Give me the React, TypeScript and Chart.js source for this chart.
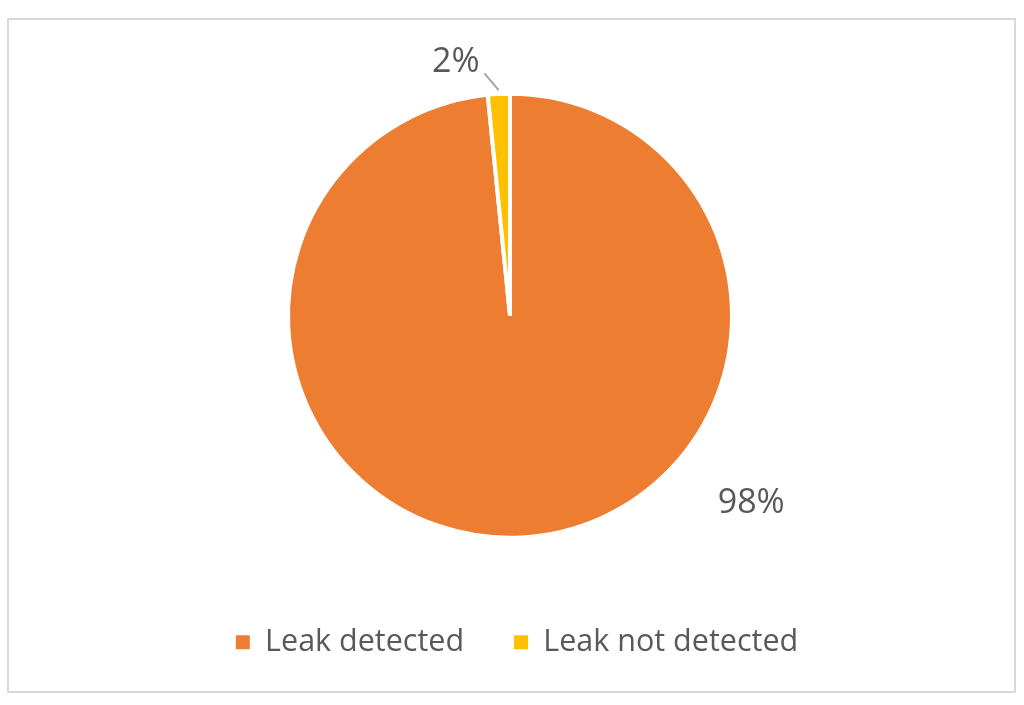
import { useEffect, useRef } from "react";
import { Chart, registerables } from "chart.js";
import type { Plugin } from "chart.js";

Chart.register(...registerables);

const categories = ["Leak detected", "Leak not detected"];
const shares = [98.4, 1.6];
const sliceColors = ["#ED7D31", "#FFC000"];

const TEXT = "#595959";
const FONT = "'Open Sans', 'Noto Sans', sans-serif";

// where each data label sits: angle (deg, clockwise from 3 o'clock) and distance from the pie centre
const labelSpots = [
  { angle: 37.5, dist: 304, leader: false },
  { angle: -102, dist: 261, leader: true },
];

const pieLabels: Plugin<"pie"> = {
  id: "pieLabels",
  afterLayout(chart) {
    // legend in the original sits a little right of the pie's centre
    if (chart.legend) {
      chart.legend.left += 7;
      chart.legend.right += 7;
    }
  },
  afterDatasetsDraw(chart) {
    const meta = chart.getDatasetMeta(0);
    const ctx = chart.ctx;
    const values = chart.data.datasets[0].data as number[];
    const total = values.reduce((a, b) => a + b, 0);
    ctx.save();
    ctx.font = `34px ${FONT}`;
    ctx.fillStyle = TEXT;
    ctx.textAlign = "center";
    ctx.textBaseline = "alphabetic";
    meta.data.forEach((el, i) => {
      const { x, y, outerRadius, startAngle, endAngle } = (el as any).getProps(
        ["x", "y", "outerRadius", "startAngle", "endAngle"],
        true
      );
      const spot = labelSpots[i];
      const a = (spot.angle * Math.PI) / 180;
      const lx = x + Math.cos(a) * spot.dist;
      const ly = y + Math.sin(a) * spot.dist;
      const text = Math.round((values[i] / total) * 100) + "%";
      if (spot.leader) {
        const mid = (startAngle + endAngle) / 2;
        const w = ctx.measureText(text).width;
        ctx.strokeStyle = "#A6A6A6";
        ctx.lineWidth = 2;
        ctx.beginPath();
        ctx.moveTo(x + Math.cos(mid) * (outerRadius + 4), y + Math.sin(mid) * (outerRadius + 4));
        ctx.lineTo(lx + w / 2 + 5, ly + 13);
        ctx.stroke();
      }
      ctx.fillText(text, lx, ly + 12);
    });
    ctx.restore();
  },
};

export default function App() {
  const canvasRef = useRef<HTMLCanvasElement>(null);

  useEffect(() => {
    if (!canvasRef.current) return;

    const chart = new Chart(canvasRef.current, {
      type: "pie",
      data: {
        labels: categories,
        datasets: [
          {
            data: shares,
            backgroundColor: sliceColors,
            borderColor: "#FFFFFF",
            borderWidth: 4,
            radius: 222,
          },
        ],
      },
      options: {
        responsive: true,
        maintainAspectRatio: false,
        animation: false,
        layout: { padding: { top: 34.5, bottom: 23.5, left: 0, right: 3 } },
        plugins: {
          tooltip: { enabled: false },
          legend: {
            position: "bottom",
            labels: {
              color: TEXT,
              font: { family: FONT, size: 30.5 },
              boxWidth: 14,
              boxHeight: 14,
              padding: 50,
              generateLabels: (c) =>
                (Chart.overrides.doughnut as any).plugins.legend.labels
                  .generateLabels(c)
                  .map((l: any) => ({ ...l, lineWidth: 0, strokeStyle: l.fillStyle })),
            },
          },
        },
      },
      plugins: [pieLabels],
    });

    return () => chart.destroy();
  }, []);

  return (
    <div
      style={{
        position: "absolute",
        left: 7,
        top: 18,
        width: 1009,
        height: 675,
        border: "2px solid #D9D9D9",
        boxSizing: "border-box",
        background: "#FFFFFF",
      }}
    >
      <div style={{ position: "relative", width: "100%", height: "100%" }}>
        <canvas ref={canvasRef}></canvas>
      </div>
    </div>
  );
}
